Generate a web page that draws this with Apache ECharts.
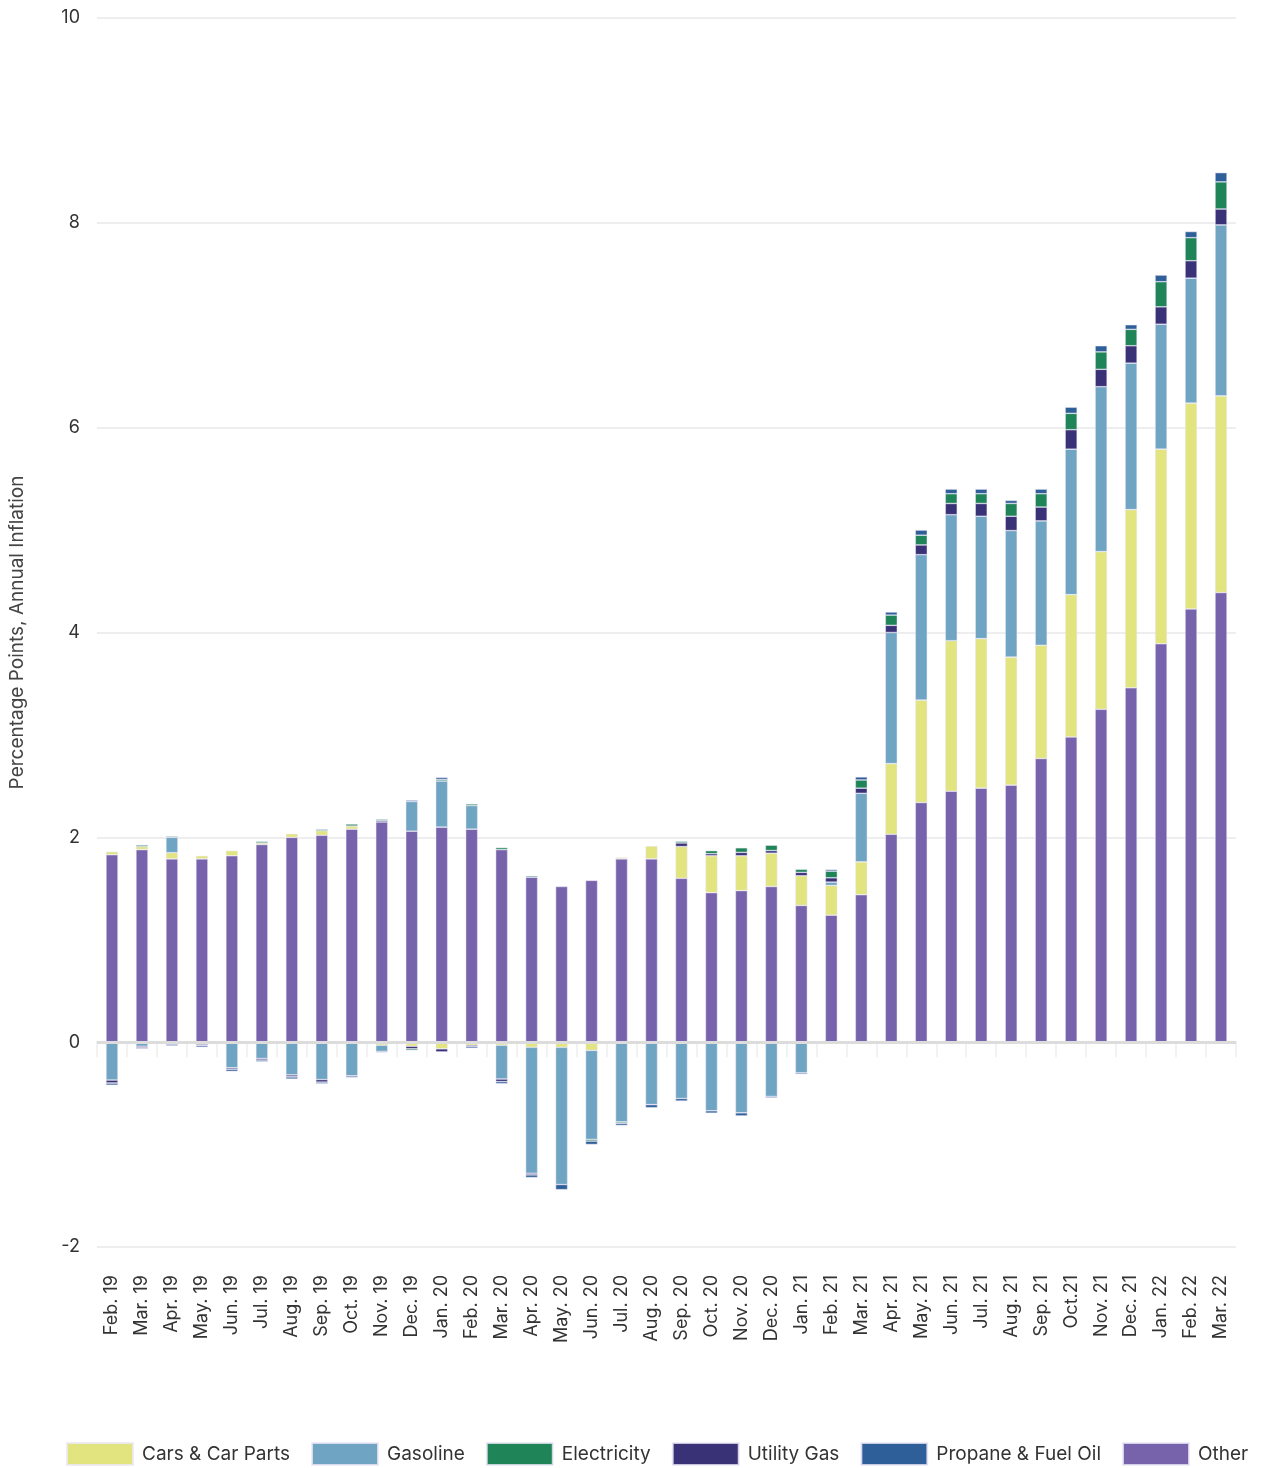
<!DOCTYPE html>
<html>
<head>
<meta charset="utf-8">
<script src="https://cdn.jsdelivr.net/npm/echarts@6/dist/echarts.min.js"></script>
<style>
  html, body { margin: 0; padding: 0; background: #fff; }
  #chart { width: 1262px; height: 1468px; }
</style>
</head>
<body>
<div id="chart"></div>
<script>
// Contributions to annual inflation, percentage points
const months = [
  'Feb. 19','Mar. 19','Apr. 19','May. 19','Jun. 19','Jul. 19','Aug. 19','Sep. 19','Oct. 19','Nov. 19','Dec. 19',
  'Jan. 20','Feb. 20','Mar. 20','Apr. 20','May. 20','Jun. 20','Jul. 20','Aug. 20','Sep. 20','Oct. 20','Nov. 20','Dec. 20',
  'Jan. 21','Feb. 21','Mar. 21','Apr. 21','May. 21','Jun. 21','Jul. 21','Aug. 21','Sep. 21','Oct.21','Nov. 21','Dec. 21',
  'Jan. 22','Feb. 22','Mar. 22'
];

const other = [1.83,1.88,1.79,1.79,1.82,1.93,2.00,2.02,2.08,2.15,2.06,
  2.10,2.08,1.88,1.61,1.52,1.58,1.79,1.79,1.60,1.46,1.48,1.52,
  1.335,1.24,1.44,2.03,2.34,2.45,2.48,2.51,2.77,2.98,3.25,3.46,
  3.89,4.23,4.39];

const cars = [0.03,0.03,0.06,0.03,0.05,0.015,0.035,0.045,0.03,-0.03,-0.04,
  -0.065,-0.03,-0.03,-0.05,-0.05,-0.08,0.013,0.125,0.31,0.36,0.34,0.325,
  0.29,0.29,0.32,0.69,1.00,1.47,1.46,1.25,1.105,1.39,1.54,1.74,
  1.90,2.01,1.92];

const gasoline = [-0.37,-0.04,0.15,-0.02,-0.25,-0.16,-0.32,-0.365,-0.33,-0.06,0.29,
  0.45,0.23,-0.33,-1.23,-1.34,-0.87,-0.78,-0.61,-0.55,-0.67,-0.69,-0.53,
  -0.30,0.033,0.67,1.28,1.42,1.23,1.195,1.235,1.215,1.42,1.61,1.43,
  1.22,1.22,1.67];

const utilityGas = [-0.03,-0.015,-0.02,-0.015,-0.015,-0.015,-0.02,-0.025,0,0.013,-0.025,
  -0.03,-0.015,-0.025,-0.016,0,0,0,0,0.035,0.02,0.033,0.026,
  0.033,0.042,0.05,0.07,0.095,0.11,0.125,0.14,0.135,0.19,0.17,0.17,
  0.17,0.17,0.155];

const electricity = [0,0.015,0.01,0,0,0.015,0,0.013,0.02,0.013,-0.015,
  0.015,0.016,0.02,0.013,0,-0.016,-0.013,0,0.016,0.03,0.045,0.052,
  0.03,0.065,0.08,0.10,0.095,0.095,0.095,0.125,0.13,0.16,0.17,0.16,
  0.245,0.225,0.265];

const propane = [-0.02,-0.01,-0.015,-0.015,-0.02,-0.015,-0.02,-0.015,-0.015,-0.01,0.013,
  0.02,-0.015,-0.02,-0.026,-0.05,-0.033,-0.02,-0.03,-0.025,-0.023,-0.03,-0.013,
  -0.013,0.016,0.03,0.03,0.05,0.045,0.045,0.03,0.045,0.06,0.06,0.045,
  0.065,0.06,0.09];

const yTicks = { min: -2, max: 10, step: 2 };

const FONT = 'Inter, "Noto Sans", sans-serif';

// Stack order from the zero line outward
const layers = [
  { name: 'Other',               data: other,       color: '#7763ab' },
  { name: 'Cars & Car Parts',    data: cars,        color: '#e2e47f' },
  { name: 'Gasoline',            data: gasoline,    color: '#6fa5c2' },
  { name: 'Utility Gas',         data: utilityGas,  color: '#3a3277' },
  { name: 'Electricity',         data: electricity, color: '#1f8457' },
  { name: 'Propane & Fuel Oil',  data: propane,     color: '#2f5f98' }
];

const series = layers.map((l, i) => ({
  name: l.name,
  type: 'bar',
  stack: 'total',
  barWidth: 12,
  data: l.data,
  itemStyle: { color: l.color, borderColor: 'rgba(236,232,248,0.8)', borderWidth: 0.6 },
  emphasis: { disabled: true },
  markLine: i === 0 ? {
    silent: true,
    symbol: 'none',
    label: { show: false },
    lineStyle: { color: '#dcdcdc', width: 3, type: 'solid' },
    data: [{ yAxis: 0 }]
  } : undefined,
  z: 2
}));

const chart = echarts.init(document.getElementById('chart'), null, { renderer: 'canvas' });
chart.setOption({
  animation: false,
  backgroundColor: '#ffffff',
  color: layers.map(l => l.color),
  grid: { left: 97, right: 26, top: 18, bottom: 221, containLabel: false },
  legend: {
    bottom: -3,
    left: 61,
    itemWidth: 66,
    itemHeight: 22,
    itemGap: 21,
    icon: 'rect',
    data: ['Cars & Car Parts', 'Gasoline', 'Electricity', 'Utility Gas', 'Propane & Fuel Oil', 'Other'],
    textStyle: { fontFamily: FONT, fontSize: 19, color: '#333', padding: [0, 0, 0, 4] }
  },
  xAxis: {
    type: 'category',
    data: months,
    boundaryGap: true,
    axisLine: { show: true, lineStyle: { color: '#eeeeee', width: 2 } },
    axisTick: { show: true, length: 15, lineStyle: { color: '#eeeeee', width: 1.5 } },
    axisLabel: {
      rotate: 90,
      interval: 0,
      margin: 28,
      fontFamily: FONT,
      fontSize: 18,
      color: '#333'
    }
  },
  yAxis: {
    type: 'value',
    min: yTicks.min,
    max: yTicks.max,
    interval: yTicks.step,
    name: 'Percentage Points, Annual Inflation',
    nameLocation: 'middle',
    nameGap: 70,
    nameTextStyle: { fontFamily: FONT, fontSize: 19, color: '#444' },
    axisLine: { show: false },
    axisTick: { show: false },
    axisLabel: { margin: 17, fontFamily: FONT, fontSize: 18, color: '#333' },
    splitLine: { lineStyle: { color: '#eeeeee', width: 2 } }
  },
  series: series
});
</script>
</body>
</html>
